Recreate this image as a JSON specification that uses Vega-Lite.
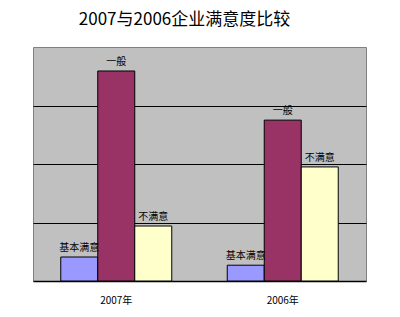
{
  "$schema": "https://vega.github.io/schema/vega-lite/v6.json",
  "width": 333,
  "height": 234,
  "autosize": {"type": "none"},
  "padding": {"left": 33, "top": 47, "right": 34, "bottom": 36},
  "background": "white",
  "title": {"text": "2007与2006企业满意度比较", "font": "Noto Sans CJK SC", "fontSize": 17, "fontWeight": "normal", "color": "black", "offset": 18, "dx": -15},
  "config": {
    "view": {"fill": "#c0c0c0", "stroke": "#808080", "strokeWidth": 1},
    "font": "Noto Sans CJK SC"
  },
  "data": {"values": [
    {"year": "2007年", "cat": "基本满意", "order": 1, "value": 8.2},
    {"year": "2007年", "cat": "一般", "order": 2, "value": 71.8},
    {"year": "2007年", "cat": "不满意", "order": 3, "value": 18.8},
    {"year": "2006年", "cat": "基本满意", "order": 1, "value": 5.4},
    {"year": "2006年", "cat": "一般", "order": 2, "value": 55.0},
    {"year": "2006年", "cat": "不满意", "order": 3, "value": 39.0}
  ]},
  "encoding": {
    "x": {"field": "year", "type": "nominal", "sort": ["2007年", "2006年"],
      "scale": {"paddingInner": 0.3333, "paddingOuter": 0.1667},
      "axis": {"title": null, "labelAngle": 0, "labelFontSize": 10, "labelColor": "black", "labelPadding": 14, "ticks": false, "domainColor": "black", "domainWidth": 1.5}},
    "xOffset": {"field": "cat", "type": "nominal", "sort": ["基本满意", "一般", "不满意"], "scale": {"paddingInner": 0, "paddingOuter": 0}},
    "y": {"field": "value", "type": "quantitative", "scale": {"domain": [0, 80], "nice": false},
      "axis": {"title": null, "labels": false, "ticks": false, "domain": false, "grid": true, "gridColor": "black", "gridOpacity": 1, "gridWidth": 1, "values": [20, 40, 60]}}
  },
  "layer": [
    {
      "mark": {"type": "bar", "stroke": "black", "strokeWidth": 1},
      "encoding": {
        "color": {"field": "cat", "type": "nominal", "sort": ["基本满意", "一般", "不满意"],
          "scale": {"domain": ["基本满意", "一般", "不满意"], "range": ["#9999ff", "#993366", "#ffffcc"]}, "legend": null}
      }
    },
    {
      "mark": {"type": "text", "baseline": "bottom", "dy": -4, "fontSize": 10, "color": "black"},
      "encoding": {"text": {"field": "cat"}}
    }
  ]
}
